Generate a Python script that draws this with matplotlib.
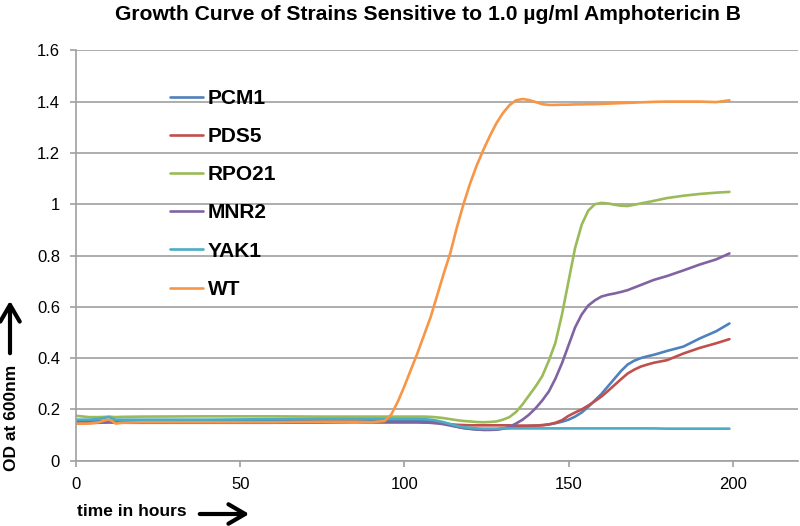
import matplotlib.pyplot as plt
from matplotlib.patches import FancyArrowPatch

# time points (hours)
t = [0, 4, 7, 9, 10, 11, 12, 14, 20, 40, 60, 75, 85, 90,
     94, 96, 98, 100, 102, 104, 106, 108, 110, 112, 114, 116, 118, 120,
     122, 124, 126, 128, 130, 132, 134, 136, 138, 140, 142, 144, 146, 148,
     150, 152, 154, 156, 158, 160, 162, 164, 166, 168, 170, 172, 174, 176,
     180, 185, 190, 195, 199]

pcm1 = [0.158, 0.155, 0.155, 0.156, 0.157, 0.156, 0.155, 0.155, 0.155, 0.155, 0.156, 0.157, 0.157, 0.157,
        0.157, 0.157, 0.157, 0.157, 0.157, 0.157, 0.156, 0.155, 0.152, 0.147, 0.14, 0.133, 0.128, 0.125,
        0.122, 0.121, 0.121, 0.122, 0.125, 0.128, 0.131, 0.133, 0.135, 0.137, 0.139, 0.142, 0.146, 0.152,
        0.16, 0.172, 0.188, 0.21, 0.235, 0.26, 0.29, 0.32, 0.35, 0.375, 0.39, 0.4, 0.407, 0.413,
        0.428, 0.445, 0.477, 0.505, 0.535]
pds5 = [0.145, 0.147, 0.148, 0.149, 0.15, 0.149, 0.148, 0.148, 0.148, 0.148, 0.148, 0.149, 0.15, 0.15,
        0.15, 0.15, 0.15, 0.15, 0.15, 0.15, 0.149, 0.148, 0.147, 0.145, 0.142, 0.14, 0.139, 0.138,
        0.138, 0.138, 0.138, 0.138, 0.138, 0.138, 0.137, 0.137, 0.137, 0.137, 0.138, 0.141, 0.148, 0.158,
        0.175, 0.188, 0.2, 0.215, 0.232, 0.25, 0.272, 0.295, 0.318, 0.34, 0.355, 0.367, 0.375, 0.382,
        0.392, 0.418, 0.44, 0.458, 0.474]
rpo21 = [0.175, 0.17, 0.17, 0.171, 0.172, 0.171, 0.17, 0.171, 0.172, 0.173, 0.173, 0.172, 0.172, 0.172,
         0.172, 0.172, 0.172, 0.172, 0.172, 0.172, 0.172, 0.171, 0.169, 0.166, 0.162, 0.158, 0.155, 0.153,
         0.151, 0.15, 0.151, 0.153, 0.16, 0.17, 0.19, 0.22, 0.255, 0.29, 0.33, 0.39, 0.46, 0.57,
         0.7, 0.83, 0.92, 0.975, 1.0, 1.005, 1.003, 0.998, 0.994, 0.993, 0.998, 1.003, 1.008, 1.013,
         1.024, 1.033, 1.04, 1.045, 1.048]
mnr2 = [0.15, 0.15, 0.15, 0.15, 0.15, 0.15, 0.15, 0.15, 0.15, 0.15, 0.15, 0.152, 0.152, 0.15,
        0.15, 0.15, 0.15, 0.15, 0.15, 0.15, 0.149, 0.148, 0.146, 0.142, 0.137, 0.132, 0.127, 0.124,
        0.122, 0.12, 0.12, 0.121, 0.125, 0.132, 0.145, 0.16, 0.18, 0.205, 0.235, 0.27, 0.32, 0.38,
        0.45, 0.52, 0.57, 0.605, 0.625, 0.64, 0.647, 0.652, 0.658, 0.665, 0.675, 0.685, 0.695, 0.705,
        0.72, 0.742, 0.765, 0.785, 0.808]
yak1 = [0.16, 0.16, 0.163, 0.168, 0.17, 0.165, 0.16, 0.16, 0.16, 0.16, 0.162, 0.163, 0.163, 0.163,
        0.163, 0.163, 0.163, 0.163, 0.163, 0.163, 0.162, 0.16, 0.156, 0.15, 0.143, 0.136, 0.131, 0.128,
        0.126, 0.125, 0.125, 0.125, 0.126, 0.126, 0.126, 0.126, 0.126, 0.126, 0.126, 0.126, 0.126, 0.126,
        0.126, 0.126, 0.126, 0.126, 0.126, 0.126, 0.126, 0.126, 0.126, 0.126, 0.126, 0.126, 0.126, 0.126,
        0.125, 0.125, 0.125, 0.125, 0.125]
wt = [0.145, 0.145, 0.15, 0.158, 0.16, 0.155, 0.145, 0.148, 0.15, 0.15, 0.15, 0.152, 0.152, 0.15,
      0.155, 0.18, 0.23, 0.29, 0.355, 0.42, 0.49, 0.56, 0.645, 0.73, 0.81, 0.91, 1.0, 1.08,
      1.15, 1.21, 1.265, 1.315, 1.355, 1.386, 1.405, 1.41, 1.406, 1.398, 1.39, 1.387, 1.387, 1.388,
      1.388, 1.389, 1.389, 1.39, 1.39, 1.391, 1.392, 1.393, 1.394, 1.395, 1.396, 1.397, 1.398, 1.399,
      1.4, 1.4, 1.4, 1.398, 1.405]

labels = ["PCM1", "PDS5", "RPO21", "MNR2", "YAK1", "WT"]
colors = ["#4F81BD", "#C0504D", "#9BBB59", "#8064A2", "#4BACC6", "#F79646"]

plt.rcParams["font.family"] = ["Liberation Sans", "DejaVu Sans"]

fig = plt.figure(figsize=(8, 5.26), dpi=100)
ax = fig.add_axes([0.095, 0.1241, 0.903, 0.7803])

for series, lab, col in zip([pcm1, pds5, rpo21, mnr2, yak1, wt], labels, colors):
    ax.plot(t, series, color=col, lw=1.9, label=lab, solid_capstyle="round",
            solid_joinstyle="round")

ax.set_xlim(0, 220)
ax.set_ylim(0, 1.6)
ax.set_xticks([0, 50, 100, 150, 200])
ax.set_yticks([0, 0.2, 0.4, 0.6, 0.8, 1, 1.2, 1.4, 1.6])
ax.set_yticklabels(["0", "0.2", "0.4", "0.6", "0.8", "1", "1.2", "1.4", "1.6"])
ax.grid(axis="y", color="#A0A0A0", lw=1.2)
ax.set_axisbelow(True)
for s in ["top", "right"]:
    ax.spines[s].set_visible(False)
for s in ["left", "bottom"]:
    ax.spines[s].set_color("#A0A0A0")
    ax.spines[s].set_linewidth(1.2)
ax.tick_params(colors="#A0A0A0", labelcolor="black", labelsize=12, length=4.5, width=1.2)
ax.tick_params(axis="x", pad=7)
ax.tick_params(axis="y", pad=7)

ax.legend(loc="upper left", bbox_to_anchor=(170 / 800, 1 - 89 / 526),
          bbox_transform=fig.transFigure, frameon=False, handlelength=1.6,
          handletextpad=0.2, labelspacing=0.92, borderaxespad=0, borderpad=0,
          prop={"weight": "bold", "size": 15})

fig.text(0.535, 0.973, "Growth Curve of Strains Sensitive to 1.0 \u00b5g/ml Amphotericin B",
         ha="center", va="center", fontsize=15.2, fontweight="bold")

fig.text(12 / 800, 1 - 418 / 526, "OD at 600nm", rotation=90, ha="center", va="center",
         fontsize=12.5, fontweight="bold")
fig.text(77 / 800, 1 - 512 / 526, "time in hours", ha="left", va="center",
         fontsize=12.5, fontweight="bold")

arrow = dict(arrowstyle="->,head_length=0.6,head_width=0.35", lw=3, color="black")
fig.add_artist(FancyArrowPatch((10 / 800, 1 - 356 / 526), (10 / 800, 1 - 298 / 526),
                               transform=fig.transFigure, mutation_scale=20, **arrow))
fig.add_artist(FancyArrowPatch((197 / 800, 1 - 514 / 526), (252 / 800, 1 - 514 / 526),
                               transform=fig.transFigure, mutation_scale=20, **arrow))

fig.savefig("out.png", dpi=100)
